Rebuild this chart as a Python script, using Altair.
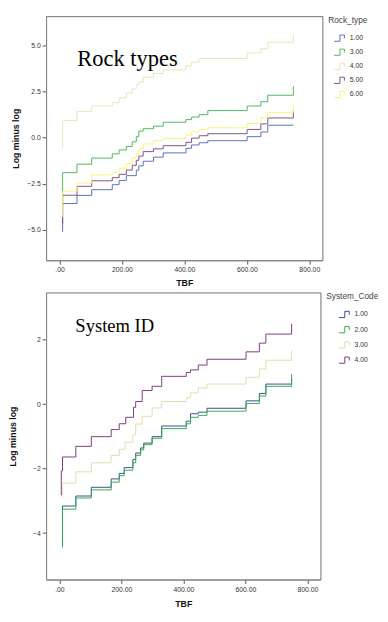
import altair as alt
import pandas as pd

# ---------------- data: top chart (Rock_type) ----------------
rock_labels = ["1.00", "3.00", "4.00", "5.00", "6.00"]
rock_colors = ["#5b6fbd", "#4db85a", "#e9e5b4", "#80508a", "#f7f47c"]

rock_1_t = [10, 10, 56, 103, 169, 191, 214, 246, 254, 268, 301, 332, 405, 423, 447, 475, 601, 645, 667, 749]
rock_1_v = [-5.10, -3.57, -3.13, -2.82, -2.55, -2.32, -2.06, -1.76, -1.53, -1.28, -1.06, -0.83, -0.58, -0.40, -0.28, -0.17, 0.05, 0.30, 0.67, 0.67]

rock_3_t = [10, 10, 56, 103, 169, 191, 214, 233, 246, 254, 268, 301, 332, 405, 423, 447, 475, 601, 645, 667, 749, 749]
rock_3_v = [-3.43, -1.90, -1.44, -1.11, -0.88, -0.67, -0.48, -0.23, 0.05, 0.35, 0.48, 0.62, 0.83, 0.97, 1.11, 1.24, 1.46, 1.71, 1.94, 2.29, 2.29, 2.77]

rock_4_t = [10, 10, 56, 103, 169, 191, 214, 233, 246, 254, 268, 301, 332, 405, 423, 447, 601, 645, 667, 749, 749]
rock_4_v = [-0.60, 0.92, 1.41, 1.71, 1.89, 2.15, 2.41, 2.64, 2.87, 3.00, 3.26, 3.47, 3.66, 3.88, 4.09, 4.28, 4.58, 4.81, 5.16, 5.16, 5.58]

rock_5_t = [10, 10, 56, 103, 169, 191, 214, 233, 246, 254, 268, 301, 332, 405, 423, 447, 475, 601, 645, 667, 749, 749]
rock_5_v = [-4.66, -3.12, -2.64, -2.34, -2.17, -1.99, -1.76, -1.50, -1.23, -1.00, -0.76, -0.61, -0.44, -0.26, -0.03, 0.10, 0.21, 0.44, 0.74, 1.06, 1.06, 1.45]

rock_6_t = [10, 10, 56, 103, 169, 191, 214, 233, 246, 254, 268, 301, 332, 405, 423, 447, 475, 601, 645, 667, 749, 749]
rock_6_v = [-4.30, -2.90, -2.46, -2.02, -1.88, -1.67, -1.41, -1.11, -0.88, -0.61, -0.35, -0.17, -0.05, 0.13, 0.32, 0.42, 0.53, 0.76, 1.06, 1.36, 1.36, 1.85]

# ---------------- data: bottom chart (System_Code) ----------------
sys_labels = ["1.00", "2.00", "3.00", "4.00"]
sys_colors = ["#3c4a94", "#2fae4a", "#e2ddae", "#7c3a80"]

sys_1_t = [10, 10, 53, 103, 167, 193, 209, 237, 246, 262, 272, 299, 330, 409, 423, 448, 476, 602, 645, 666, 749, 749]
sys_1_v = [-3.64, -3.16, -2.85, -2.58, -2.32, -2.15, -1.97, -1.72, -1.52, -1.36, -1.21, -1.01, -0.68, -0.53, -0.30, -0.25, -0.13, 0.10, 0.33, 0.62, 0.62, 0.78]

sys_2_t = [10, 10, 53, 103, 167, 193, 209, 237, 246, 262, 272, 299, 330, 409, 423, 448, 476, 602, 645, 666, 749, 749]
sys_2_v = [-4.45, -3.26, -2.91, -2.66, -2.42, -2.22, -2.05, -1.82, -1.59, -1.42, -1.26, -1.06, -0.76, -0.61, -0.41, -0.35, -0.22, 0.02, 0.25, 0.55, 0.55, 0.93]

sys_3_t = [9, 9, 53, 103, 167, 193, 212, 237, 246, 267, 299, 330, 409, 423, 448, 476, 602, 645, 666, 749, 749]
sys_3_v = [-2.88, -2.45, -2.10, -1.82, -1.59, -1.40, -1.18, -0.95, -0.62, -0.38, -0.12, 0.08, 0.20, 0.35, 0.50, 0.62, 0.83, 1.09, 1.36, 1.36, 1.67]

sys_4_t = [6, 6, 10, 53, 103, 167, 193, 214, 239, 246, 267, 299, 330, 409, 423, 448, 476, 602, 645, 666, 749, 749]
sys_4_v = [-2.83, -2.07, -1.64, -1.31, -1.01, -0.79, -0.61, -0.41, -0.10, 0.08, 0.42, 0.55, 0.86, 0.98, 1.06, 1.21, 1.39, 1.62, 1.89, 2.17, 2.17, 2.49]

x_ticks = [0, 200, 400, 600, 800]
rock_y_ticks = [-5.0, -2.5, 0.0, 2.5, 5.0]
sys_y_ticks = [-4, -2, 0, 2]


def build(series, labels):
    rows = []
    for lab, (ts, vs) in zip(labels, series):
        for i, (t, v) in enumerate(zip(ts, vs)):
            rows.append({"TBF": t, "LML": v, "grp": lab, "ord": i})
    return pd.DataFrame(rows)


rock_df = build([(rock_1_t, rock_1_v), (rock_3_t, rock_3_v), (rock_4_t, rock_4_v),
                 (rock_5_t, rock_5_v), (rock_6_t, rock_6_v)], rock_labels)
sys_df = build([(sys_1_t, sys_1_v), (sys_2_t, sys_2_v), (sys_3_t, sys_3_v),
                (sys_4_t, sys_4_v)], sys_labels)

SANS = "Liberation Sans"
SERIF = "Liberation Serif"
STEP_SYMBOL = "M-1,0.45H-0.15V-0.45H0.5V0.05"
x_label_expr = "datum.value == 0 ? '.00' : format(datum.value, '.2f')"


def panel(df, labels, colors, ydom, yticks, yfmt, w, h, ann, ax, ay, afs,
          legend_title, row_pad, sym_off, y_extent, x_tpad):
    lines = alt.Chart(df).mark_line(interpolate="step-after", strokeWidth=1).encode(
        x=alt.X("TBF:Q", scale=alt.Scale(domain=[-43, 842], nice=False, zero=False),
                axis=alt.Axis(values=x_ticks, labelExpr=x_label_expr, title="TBF",
                              titlePadding=x_tpad)),
        y=alt.Y("LML:Q", scale=alt.Scale(domain=ydom, nice=False, zero=False),
                axis=alt.Axis(values=yticks, format=yfmt, title="Log minus log",
                              minExtent=y_extent, maxExtent=y_extent, titlePadding=6)),
        color=alt.Color("grp:N", scale=alt.Scale(domain=labels, range=colors),
                        legend=alt.Legend(title=legend_title, symbolType=STEP_SYMBOL,
                                          symbolSize=200, rowPadding=row_pad,
                                          symbolOffset=sym_off)),
        order="ord:Q",
        detail="grp:N",
    )
    text = alt.Chart(pd.DataFrame({"label": [ann]})).mark_text(
        font=SERIF, fontSize=afs, align="left", baseline="alphabetic", color="#000"
    ).encode(x=alt.value(ax), y=alt.value(ay), text="label:N")
    return alt.layer(lines, text).properties(width=w, height=h)


top = panel(rock_df, rock_labels, rock_colors, [-6.64, 6.57], rock_y_ticks,
            ".1f", 283, 250, "Rock types", 32, 51, 23, "Rock_type", 0.4, 5, 20, 6)
bottom = panel(sys_df, sys_labels, sys_colors, [-5.44, 3.46], sys_y_ticks,
               "d", 281, 294, "System ID", 30, 40, 19, "System_Code", 1.6, 12, 23, 8)

chart = alt.vconcat(top, bottom, spacing=3).resolve_scale(color="independent").configure(
    padding=0, background="white"
).configure_view(stroke="#6e6e6e", strokeWidth=1).configure_axis(
    grid=False,
    labelFont=SANS, labelFontSize=7, labelColor="#333",
    titleFont=SANS, titleFontSize=9, titleFontWeight="bold", titleColor="#111",
    tickSize=4, tickColor="#555", domainColor="#888", labelPadding=2,
).configure_legend(
    orient="right", offset=6, padding=0,
    titleFont=SANS, titleFontSize=8.5, titleFontWeight="normal", titleColor="#444",
    labelFont=SANS, labelFontSize=7, labelColor="#333", labelOffset=1,
    symbolStrokeWidth=1, symbolFillColor="transparent", titlePadding=6,
)

chart.save("out.html", embed_options={"renderer": "svg", "actions": False})
